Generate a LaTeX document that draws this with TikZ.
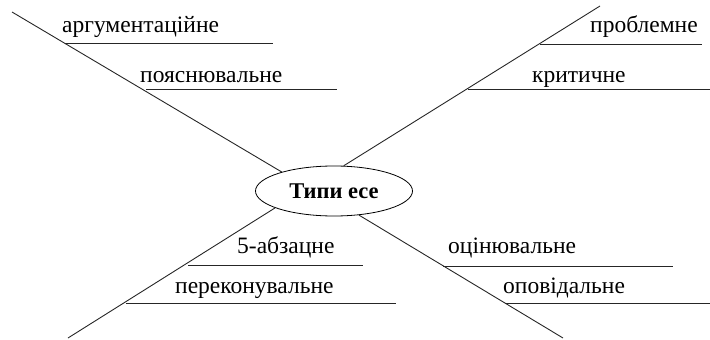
\documentclass[tikz,border=0pt]{standalone}
\usepackage{fontspec}
\setmainfont{Liberation Serif}
\usetikzlibrary{shapes.geometric}
\begin{document}
\begin{tikzpicture}[%
    x=1pt,y=-1pt,
    hub/.style={ellipse,draw,line width=0.8pt,minimum width=157pt,minimum height=50pt,inner sep=0pt,font=\fontsize{22.5}{26}\selectfont\bfseries},
    lbl/.style={anchor=base west,inner sep=0pt,font=\fontsize{23.5}{27}\selectfont},
    ln/.style={line width=0.9pt,black!85}
  ]
		\useasboundingbox (0,0) rectangle (710,340);

		\node at (334,191) [hub] (types) {Типи есе};

		% free ends of the four branches
		\coordinate (ul) at (12,12);
		\coordinate (ur) at (600,6);
		\coordinate (ll) at (68,338);
		\coordinate (lr) at (563,338);

		\draw[ln] (types.160) -- (ul);
		\draw[ln] (types.69) -- (ur);
		\draw[ln] (types.196) -- (ll);
		\draw[ln] (types.316) -- (lr);

		% upper left
		\node at (62,32) [lbl] (argum) {аргументаційне};
		\coordinate (argumL) at (65,43);
		\coordinate (argumR) at (273,43);
		\draw[ln] (argumL) -- (argumR);

		\node at (140,82) [lbl] (poyasn) {пояснювальне};
		\coordinate (poyasnL) at (146,89);
		\coordinate (poyasnR) at (337,89);
		\draw[ln] (poyasnL) -- (poyasnR);

		% upper right
		\node at (590,32) [lbl] (problem) {проблемне};
		\coordinate (problemL) at (540,44);
		\coordinate (problemR) at (702,44);
		\draw[ln] (problemL) -- (problemR);

		\node at (532,82) [lbl] (krit) {критичне};
		\coordinate (kritL) at (468,89);
		\coordinate (kritR) at (710,89);
		\draw[ln] (kritL) -- (kritR);

		% lower left
		\node at (237,253) [lbl] (abzac) {5-абзацне};
		\coordinate (abzacL) at (188,265);
		\coordinate (abzacR) at (363,265);
		\draw[ln] (abzacL) -- (abzacR);

		\node at (175,293) [lbl] (perek) {переконувальне};
		\coordinate (perekL) at (126,303);
		\coordinate (perekR) at (396,303);
		\draw[ln] (perekL) -- (perekR);

		% lower right
		\node at (448,253) [lbl] (ocin) {оцінювальне};
		\coordinate (ocinL) at (443,266);
		\coordinate (ocinR) at (673,266);
		\draw[ln] (ocinL) -- (ocinR);

		\node at (503,293) [lbl] (opov) {оповідальне};
		\coordinate (opovL) at (505,303);
		\coordinate (opovR) at (710,303);
		\draw[ln] (opovL) -- (opovR);
	\end{tikzpicture}
\end{document}
